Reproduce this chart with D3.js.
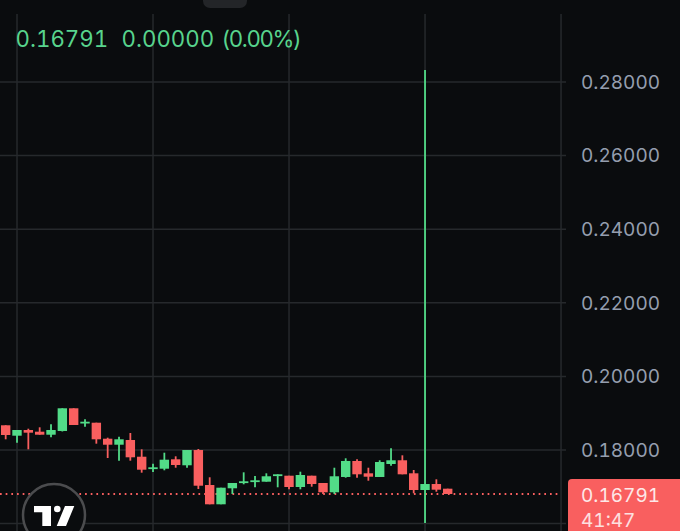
<!DOCTYPE html>
<html>
<head>
<meta charset="utf-8">
<script src="https://cdn.jsdelivr.net/npm/d3@7"></script>
<style>
html, body { margin: 0; padding: 0; background: #0a0c0e; overflow: hidden; }
text { font-family: Inter, "Noto Sans", sans-serif; font-feature-settings: "tnum" 1; font-variant-numeric: tabular-nums; }
</style>
</head>
<body>
<div id="chart"></div>
<script>
const canvasWidth = 680;
const canvasHeight = 531;
const upColor = "#52dc88";
const downColor = "#f95f5f";
const legendColor = "#58d48d";

const opens = [.18658,.18375,.18530,.18484,.18402,.18503,.19120,.18712,.18728,.18293,
    .18130,.18258,.17804,.17478,.17478,.17734,.17571,.17986,.17035,.16511,
    .16946,.17098,.17125,.17125,.17288,.17288,.16981,.17288,.17090,.16837,
    .17253,.17688,.17353,.17253,.17606,.17707,.17353,.16899,.17062,.16935];
const highs = [.18658,.18530,.18565,.18603,.18685,.19120,.19120,.18821,.18728,.18321,
    .18348,.18448,.18005,.17614,.17913,.17815,.17986,.18014,.17245,.16962,
    .17090,.17380,.17280,.17353,.17326,.17288,.17397,.17288,.17090,.17505,
    .17761,.17734,.17505,.17707,.18033,.17842,.17443,.28310,.17190,.16935];
const lows = [.18277,.18185,.18005,.18402,.18332,.18490,.18666,.18620,.18158,.17769,
    .17696,.17696,.17370,.17389,.17435,.17505,.17505,.16927,.16511,.16511,
    .16791,.17054,.16973,.17125,.16973,.16918,.16918,.16989,.16791,.16791,
    .17234,.17234,.17152,.17253,.17560,.17326,.16810,.16000,.16853,.16791];
const closes = [.18394,.18530,.18457,.18402,.18530,.19120,.18666,.18755,.18277,.18130,
    .18277,.17788,.17451,.17516,.17723,.17579,.17986,.17016,.16511,.16962,
    .17090,.17136,.17163,.17272,.17326,.16981,.17307,.17062,.16837,.17272,
    .17688,.17326,.17261,.17660,.17707,.17326,.16899,.17062,.16908,.16791];

const priceTicks = [0.16, 0.18, 0.20, 0.22, 0.24, 0.26, 0.28];
const timeGridBars = [1, 13, 25, 37, 49];
const lastPrice = 0.16791;
const legendLabels = ["0.16791", "0.00000", "(0.00%)"];
const countdown = "41:47";

const candles = opens.map((o, i) => ({i, o, h: highs[i], l: lows[i], c: closes[i]}));

const x = d3.scaleLinear().domain([0, 39]).range([5.67, 447.7]);
const y = d3.scaleLinear().domain([0.18, 0.28]).range([449.5, 81.5]);
const plotRight = x(49);
const plotTop = 14;

const svg = d3.select("#chart").append("svg")
    .attr("width", canvasWidth)
    .attr("height", canvasHeight)
    .style("display", "block");

svg.append("rect")
    .attr("width", canvasWidth)
    .attr("height", canvasHeight)
    .attr("fill", "#0a0c0e");

// bit of the toolbar handle poking in at the top
svg.append("rect")
    .attr("x", 203).attr("y", -10)
    .attr("width", 44).attr("height", 18)
    .attr("rx", 7)
    .attr("fill", "#232528");

// Grid
svg.append("g").selectAll("line")
    .data(timeGridBars)
    .enter().append("line")
        .attr("x1", (d) => x(d))
        .attr("x2", (d) => x(d))
        .attr("y1", plotTop)
        .attr("y2", canvasHeight)
        .attr("stroke", "#26292c")
        .attr("stroke-width", 1.5);

// Price axis, the long ticks double as horizontal grid lines
// 0.16 sits behind the price label, so it only gets its grid line
const axis = d3.axisRight(y)
    .tickValues(priceTicks)
    .tickFormat((d) => d < 0.17 ? "" : d3.format(".5f")(d))
    .tickSize(plotRight + 5)
    .tickPadding(15);
const axisG = svg.append("g").call(axis);
axisG.select(".domain").remove();
axisG.selectAll("line")
    .attr("stroke", "#26292c")
    .attr("stroke-width", 1.5);
axisG.selectAll("text")
    .attr("fill", "#959eae")
    .style("font-size", "19px")
    .attr("dy", "0.36em");

// Last price line
svg.append("line")
    .attr("x1", 0)
    .attr("x2", plotRight)
    .attr("y1", y(lastPrice))
    .attr("y2", y(lastPrice))
    .attr("stroke", downColor)
    .attr("stroke-width", 2)
    .attr("stroke-dasharray", "1.7 3.97");

// Candles
const colorOf = (d) => d.c >= d.o ? upColor : downColor;
const candle = svg.append("g").selectAll("g")
    .data(candles)
    .enter().append("g");
candle.append("line")
    .attr("x1", (d) => x(d.i))
    .attr("x2", (d) => x(d.i))
    .attr("y1", (d) => y(d.h))
    .attr("y2", (d) => y(d.l))
    .attr("stroke", colorOf)
    .attr("stroke-width", 1.8);
candle.append("rect")
    .attr("x", (d) => x(d.i) - 4.7)
    .attr("width", 9.4)
    .attr("y", (d) => y(Math.max(d.o, d.c)))
    .attr("height", (d) => Math.max(1.8, Math.abs(y(d.o) - y(d.c))))
    .attr("fill", colorOf);

// Legend
svg.append("text")
    .attr("x", 15.5).attr("y", 47)
    .attr("fill", legendColor)
    .style("font-size", "22.3px")
    .text(legendLabels[0]);
svg.append("text")
    .attr("x", 121.5).attr("y", 47)
    .attr("fill", legendColor)
    .style("font-size", "22.3px")
    .text(legendLabels[1]);
svg.append("text")
    .attr("x", 221.5).attr("y", 47)
    .attr("fill", legendColor)
    .style("font-size", "22.3px")
    .style("letter-spacing", "-1.4px")
    .text(legendLabels[2]);

// Price label
svg.append("path")
    .attr("d", `M568 ${canvasHeight}V483a4 4 0 0 1 4 -4H${canvasWidth}V${canvasHeight}Z`)
    .attr("fill", downColor);
svg.append("text")
    .attr("x", 581).attr("y", 502)
    .attr("fill", "#fde8e8")
    .style("font-size", "19px")
    .text(d3.format(".5f")(lastPrice));
svg.append("text")
    .attr("x", 581).attr("y", 526.5)
    .attr("fill", "#fde0e0")
    .style("font-size", "19px")
    .text(countdown);

// TradingView badge
const logo = svg.append("g");
logo.append("circle")
    .attr("cx", 54).attr("cy", 515).attr("r", 31)
    .attr("fill", "#0a0c0e")
    .attr("stroke", "#4b4c4e")
    .attr("stroke-width", 2.5);
logo.append("path")
    .attr("d", "M34 506H51V526H42.3V512.3H34Z M65 506H74.3L66 526H56.7Z")
    .attr("fill", "#ffffff");
logo.append("circle")
    .attr("cx", 57.3).attr("cy", 509).attr("r", 3.3)
    .attr("fill", "#ffffff");
</script>
</body>
</html>
